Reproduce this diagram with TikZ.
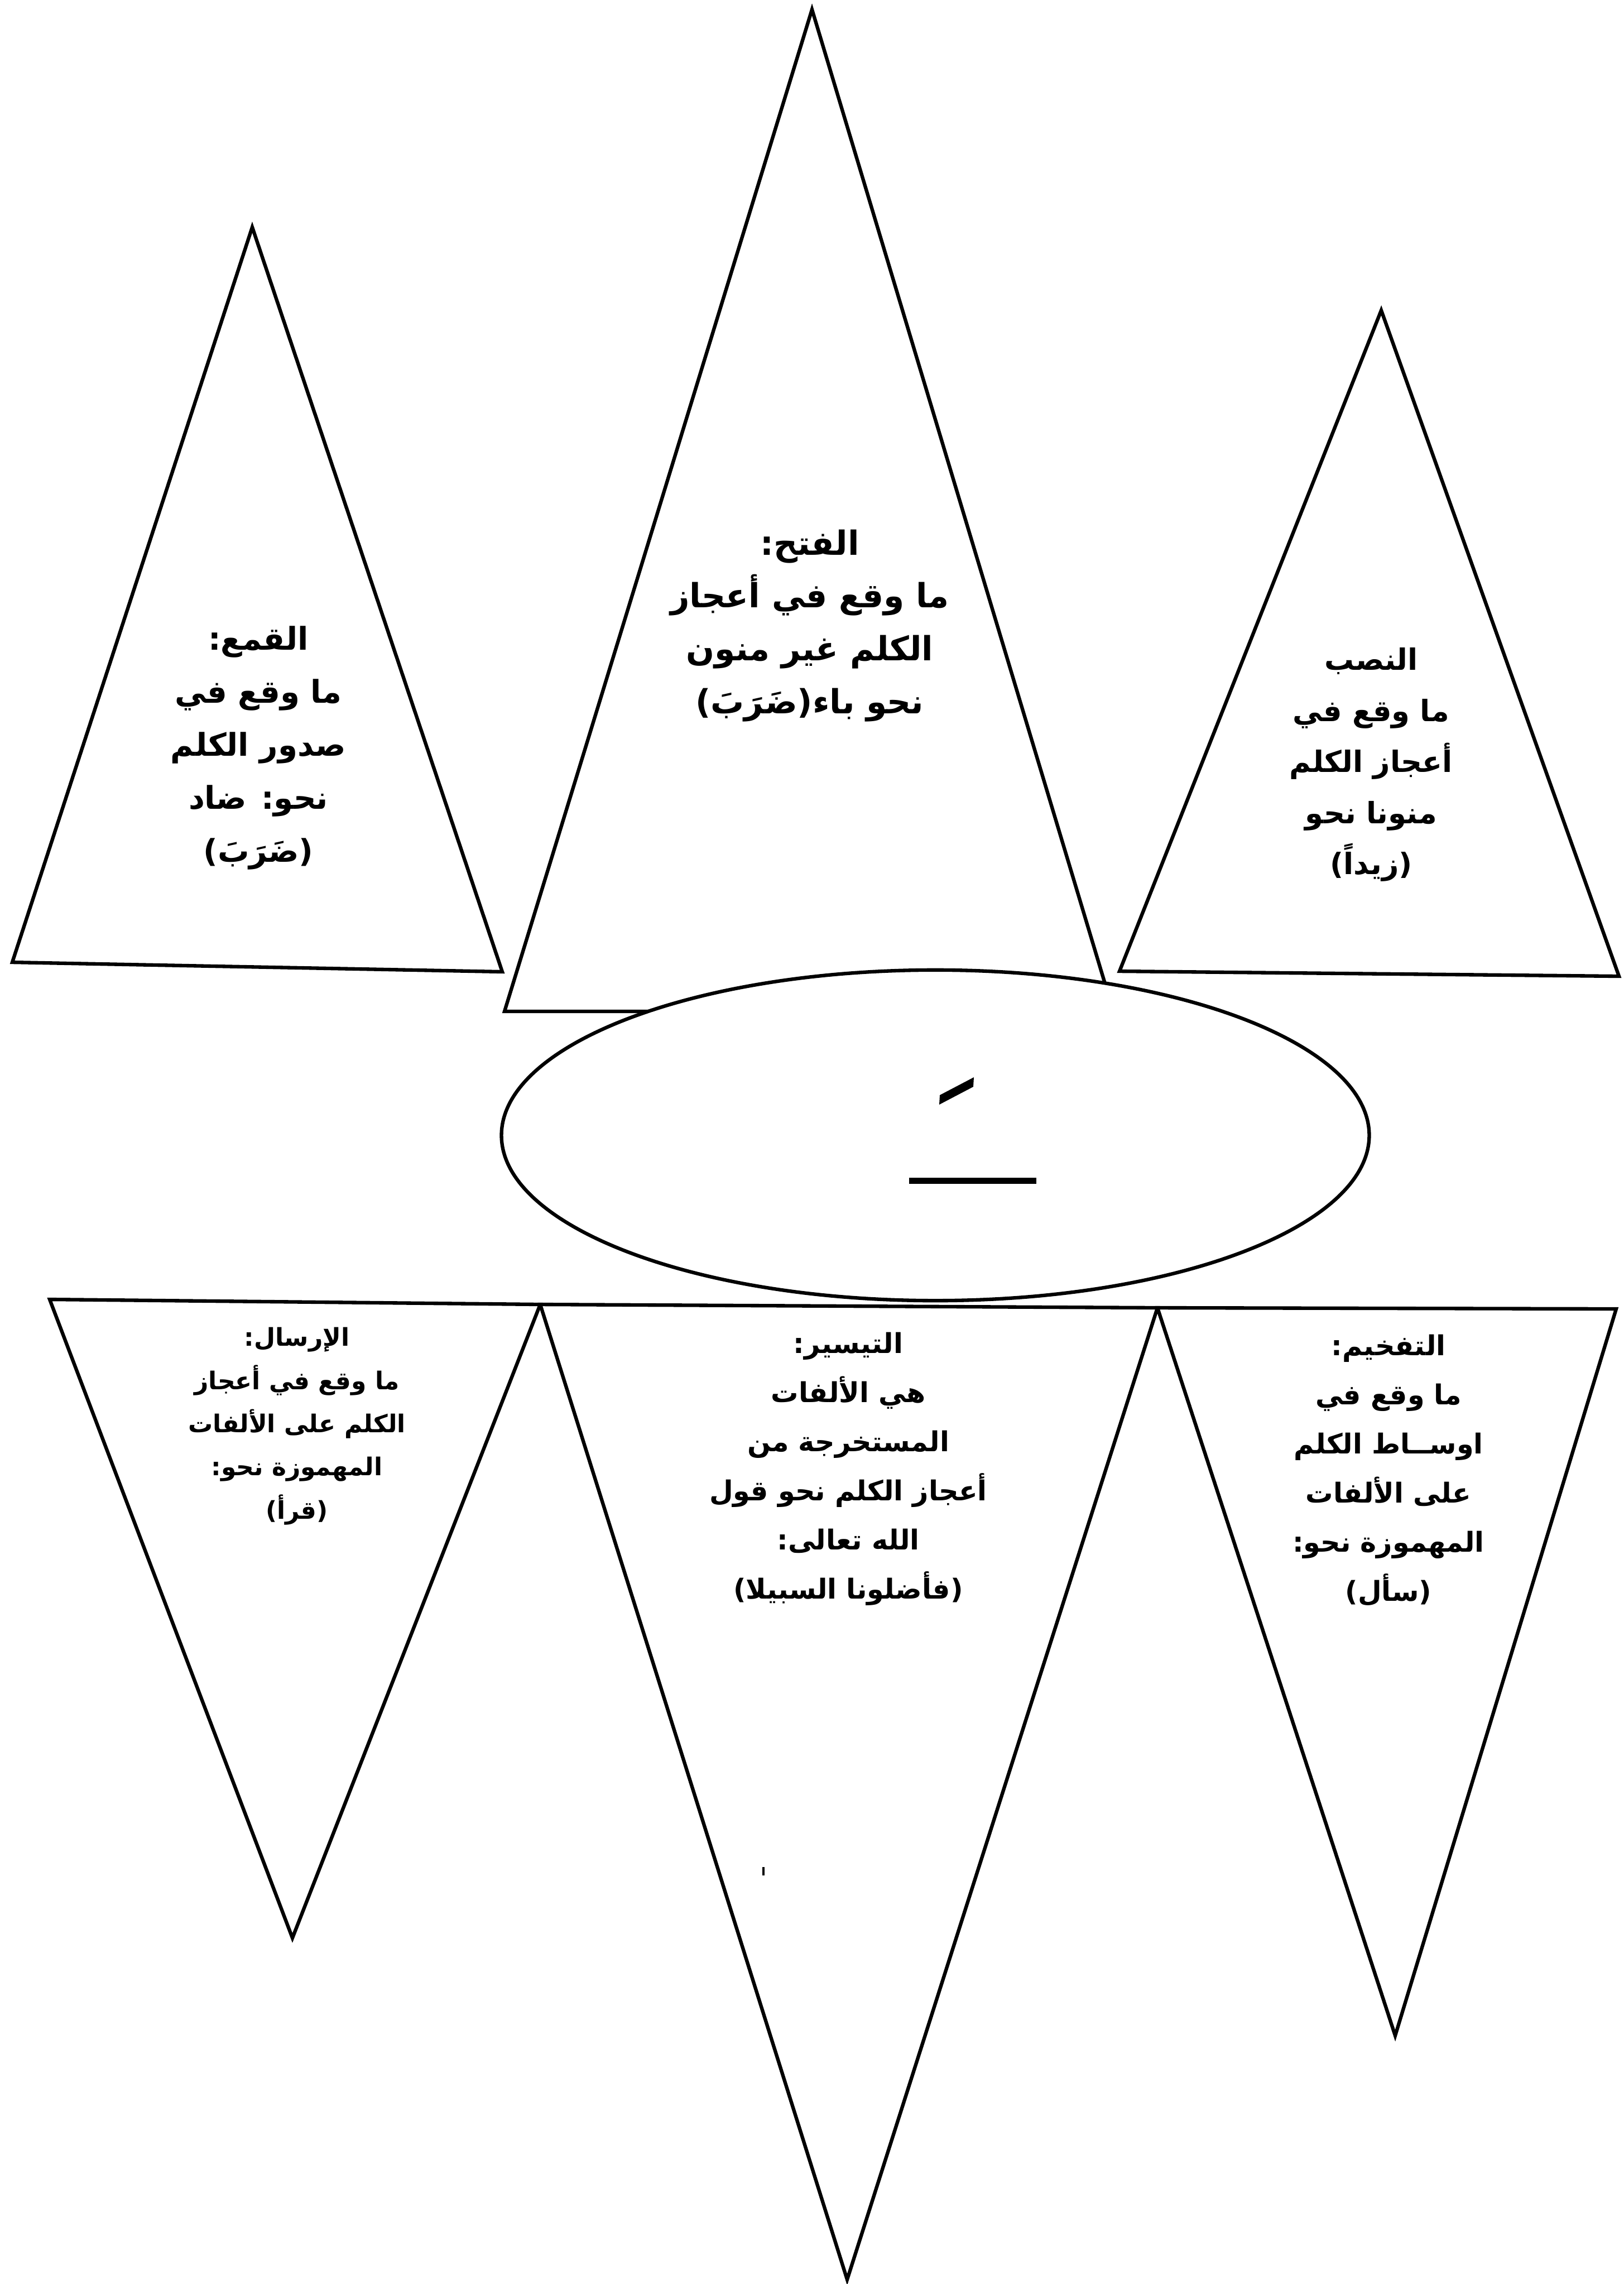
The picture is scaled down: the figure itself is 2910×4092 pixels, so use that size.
\documentclass[tikz,border=0pt]{standalone}
\usepackage{fontspec}
\newfontfamily\arabicfont[Script=Arabic]{DejaVu Sans}
\TeXXeTstate=1
\newcommand{\ar}[1]{\beginR #1\endR}
\usetikzlibrary{shapes.geometric}

\begin{document}
\begin{tikzpicture}[
    x=0.01cm, y=-0.01cm,
    tri/.style={draw=black, line width=1.8pt, line join=miter},
    oval/.style={ellipse, draw=black, fill=white, line width=1.8pt, minimum width=15.54cm, minimum height=5.92cm, inner sep=0pt},
    lbl/.style 2 args={align=center, inner sep=0pt, font=\arabicfont\bfseries\fontsize{#1}{#2}\selectfont}
]
    \useasboundingbox (0,0) rectangle (2910,4092);

    \coordinate (qam-top) at (452,407);
    \coordinate (qam-left) at (22,1724);
    \coordinate (qam-right) at (900,1741);
    \coordinate (fath-top) at (1455,17);
    \coordinate (fath-left) at (904,1812);
    \coordinate (fath-right) at (1995,1812);
    \coordinate (nasb-top) at (2475,556);
    \coordinate (nasb-left) at (2006,1740);
    \coordinate (nasb-right) at (2901,1749);
    \coordinate (irsal-left) at (89,2328);
    \coordinate (irsal-right) at (968,2337);
    \coordinate (irsal-tip) at (524,3472);
    \coordinate (taysir-right) at (2074,2343);
    \coordinate (taysir-tip) at (1518,4084);
    \coordinate (tafkhim-right) at (2896,2345);
    \coordinate (tafkhim-tip) at (2500,3647);

    \draw[tri] (qam-top) -- (qam-left) -- (qam-right) -- cycle;
    \draw[tri] (fath-top) -- (fath-left) -- (fath-right) -- cycle;
    \draw[tri] (nasb-top) -- (nasb-left) -- (nasb-right) -- cycle;

    \node[oval] (hub) at (1676,2034) {};
    \fill (1683,1979) -- (1684,1962) -- (1745,1930) -- (1744,1947) -- cycle;
    \fill (1629,2110) rectangle (1857,2121);

    \draw[tri] (irsal-left) -- (irsal-right) -- (irsal-tip) -- cycle;
    \draw[tri] (irsal-right) -- (taysir-right) -- (taysir-tip) -- cycle;
    \draw[tri] (taysir-right) -- (tafkhim-right) -- (tafkhim-tip) -- cycle;
    \draw[line width=1pt] (1368,3345) -- (1368,3360);

    \node[lbl={16}{27}] (qamtxt) at (463,1340) {\ar{القمع:}\\\ar{ما وقع في}\\\ar{صدور الكلم}\\\ar{نحو: ضاد}\\\ar{(ضَرَبَ)}};
    \node[lbl={17}{27}] (fathtxt) at (1451,1121) {\ar{الفتح:}\\\ar{ما وقع في أعجاز}\\\ar{الكلم غير منون}\\\ar{نحو باء(ضَرَبَ)}};
    \node[lbl={15}{26}] (nasbtxt) at (2457,1370) {\ar{النصب}\\\ar{ما وقع في}\\\ar{أعجاز الكلم}\\\ar{منونا نحو}\\\ar{(زيداً)}};
    \node[lbl={12.5}{22}] (irsaltxt) at (532,2555) {\ar{الإرسال:}\\\ar{ما وقع في أعجاز}\\\ar{الكلم على الألفات}\\\ar{المهموزة نحو:}\\\ar{(قرأ)}};
    \node[lbl={14}{25}] (taysirtxt) at (1520,2632) {\ar{التيسير:}\\\ar{هي الألفات}\\\ar{المستخرجة من}\\\ar{أعجاز الكلم نحو قول}\\\ar{الله تعالى:}\\\ar{(فأضلونا السبيلا)}};
    \node[lbl={14}{25}] (tafkhimtxt) at (2488,2634) {\ar{التفخيم:}\\\ar{ما وقع في}\\\ar{اوســاط الكلم}\\\ar{على الألفات}\\\ar{المهموزة نحو:}\\\ar{(سأل)}};
\end{tikzpicture}
\end{document}
